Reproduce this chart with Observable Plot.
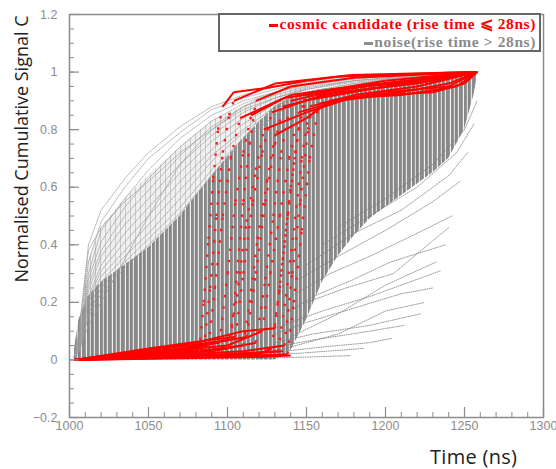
<!DOCTYPE html>
<html>
<head>
<meta charset="utf-8">
<script src="https://cdn.jsdelivr.net/npm/d3@7"></script>
<script src="https://cdn.jsdelivr.net/npm/@observablehq/plot@0.6"></script>
<style>
  html, body { margin: 0; padding: 0; background: #fff; }
  #wrap { position: relative; width: 556px; height: 469px; overflow: hidden; }
  #legend { position: absolute; left: 218px; top: 13px; width: 323px; height: 39px; box-sizing: border-box;
    border: 2px solid #666; background: #fff; font-family: "Liberation Serif", "Times New Roman", serif;
    font-weight: bold; font-size: 15.5px; letter-spacing: 0.6px; text-align: right; padding-right: 3px; line-height: 18px; padding-top: 0px; }
  #legend .row { white-space: nowrap; height: 18px; }
  #legend .mk { display: inline-block; width: 9px; height: 3px; vertical-align: middle; margin-right: 1px; }
  #ylab { position: absolute; left: 21px; top: 149px; transform: translate(-50%, -50%) rotate(-90deg);
    font-family: "Open Sans", sans-serif; font-size: 18px; color: #222; white-space: nowrap; }
  #xlab { position: absolute; left: 430px; top: 443px; font-family: "Open Sans", sans-serif; font-size: 20px; color: #222; white-space: nowrap; letter-spacing: 0.3px; }
</style>
</head>
<body>
<div id="wrap">
  <div id="legend">
    <div class="row" style="color:#ff0000"><span class="mk" style="background:#ff0000"></span>cosmic candidate (rise time ⩽ 28ns)</div>
    <div class="row" style="color:#8c8c8c"><span class="mk" style="background:#8c8c8c"></span>noise(rise time &gt; 28ns)</div>
  </div>
  <div id="ylab">Normalised Cumulative Signal C</div>
  <div id="xlab">Time (ns)</div>
</div>
<script>
// ---- axis ticks ----
const xTicks = [1000, 1050, 1100, 1150, 1200, 1250, 1300];
const yTicks = [-0.2, 0, 0.2, 0.4, 0.6, 0.8, 1, 1.2];
const xMinor = d3.range(1000, 1301, 10);
const yMinor = d3.range(-4, 25).map(i => i * 0.05);

// ---- dense noise band (envelope) ----
const bandT    = [1003, 1006, 1012, 1020, 1035, 1050, 1070, 1090, 1110, 1130, 1140, 1150, 1160, 1170, 1180, 1190, 1200, 1210, 1220, 1230, 1240, 1250, 1256, 1258];
const bandLow  = [0, 0, 0, 0, 0, 0, 0, 0, 0, 0, 0.03, 0.14, 0.27, 0.36, 0.43, 0.49, 0.53, 0.57, 0.61, 0.65, 0.7, 0.8, 0.92, 0.98];
const bandHigh = [0.03, 0.14, 0.22, 0.27, 0.33, 0.39, 0.5, 0.64, 0.77, 0.88, 0.91, 0.93, 0.94, 0.945, 0.95, 0.955, 0.96, 0.965, 0.97, 0.975, 0.98, 0.99, 0.995, 1.0];

// ---- sparse noise band above it ----
const sparseT    = [1003, 1006, 1012, 1020, 1035, 1050, 1070, 1090, 1110, 1130, 1150];
const sparseLow  = [0.03, 0.14, 0.22, 0.27, 0.33, 0.39, 0.5, 0.64, 0.77, 0.88, 0.93];
const sparseHigh = [0.03, 0.1, 0.34, 0.46, 0.56, 0.64, 0.74, 0.83, 0.88, 0.93, 0.95];

// ---- early noise curves (values at upperT) ----
const upperT = [1003, 1006, 1012, 1020, 1035, 1050, 1070, 1090, 1110, 1130, 1150, 1180, 1210, 1240, 1258];
const upperNoise = [
  [0.01, 0.10, 0.40, 0.52, 0.63, 0.72, 0.81, 0.88, 0.92, 0.95, 0.97, 0.985, 0.995, 1, 1],
  [0.01, 0.08, 0.34, 0.48, 0.60, 0.70, 0.79, 0.87, 0.91, 0.94, 0.965, 0.98, 0.99, 1, 1],
  [0.01, 0.07, 0.30, 0.45, 0.56, 0.66, 0.77, 0.85, 0.90, 0.93, 0.96, 0.98, 0.99, 0.995, 1],
  [0.01, 0.06, 0.28, 0.41, 0.53, 0.63, 0.74, 0.83, 0.89, 0.93, 0.955, 0.975, 0.99, 0.995, 1],
  [0.01, 0.06, 0.26, 0.38, 0.50, 0.59, 0.71, 0.81, 0.88, 0.92, 0.95, 0.97, 0.985, 0.995, 1],
  [0.01, 0.05, 0.24, 0.36, 0.47, 0.56, 0.68, 0.78, 0.86, 0.91, 0.945, 0.97, 0.985, 0.99, 1],
  [0.01, 0.05, 0.22, 0.33, 0.44, 0.53, 0.65, 0.76, 0.84, 0.90, 0.94, 0.965, 0.98, 0.99, 1],
  [0.01, 0.04, 0.21, 0.31, 0.41, 0.50, 0.62, 0.73, 0.82, 0.89, 0.93, 0.96, 0.98, 0.99, 1],
  [0.01, 0.04, 0.20, 0.29, 0.38, 0.47, 0.59, 0.71, 0.80, 0.88, 0.93, 0.96, 0.975, 0.99, 1],
  [0.01, 0.04, 0.18, 0.27, 0.36, 0.44, 0.56, 0.69, 0.79, 0.87, 0.92, 0.955, 0.975, 0.99, 1],
  [0.01, 0.03, 0.16, 0.25, 0.34, 0.42, 0.53, 0.66, 0.77, 0.86, 0.92, 0.95, 0.97, 0.985, 1],
  [0.01, 0.03, 0.15, 0.23, 0.32, 0.40, 0.51, 0.64, 0.76, 0.85, 0.915, 0.95, 0.97, 0.985, 1],
  [0.01, 0.03, 0.12, 0.20, 0.35, 0.50, 0.68, 0.80, 0.87, 0.91, 0.94, 0.97, 0.98, 0.99, 1],
  [0.01, 0.09, 0.38, 0.46, 0.55, 0.62, 0.72, 0.80, 0.88, 0.93, 0.96, 0.98, 0.99, 1, 1]
];

// ---- late noise curves [time, value] ----
const lateNoise = [
  [[1120, 0.005], [1150, 0.01], [1178, 0.015]],
  [[1110, 0.01], [1150, 0.025], [1186, 0.04]],
  [[1120, 0.02], [1160, 0.045], [1190, 0.06], [1204, 0.075]],
  [[1125, 0.04], [1155, 0.07], [1190, 0.10], [1212, 0.12]],
  [[1130, 0.06], [1154, 0.09], [1190, 0.12], [1222, 0.16]],
  [[1130, 0.09], [1150, 0.13], [1180, 0.18], [1210, 0.23], [1230, 0.25]],
  [[1135, 0.12], [1160, 0.17], [1190, 0.22], [1220, 0.28], [1235, 0.31]],
  [[1140, 0.17], [1154, 0.22], [1180, 0.28], [1203, 0.34], [1238, 0.40]],
  [[1140, 0.22], [1165, 0.30], [1190, 0.36], [1220, 0.44], [1242, 0.50]],
  [[1145, 0.28], [1170, 0.36], [1200, 0.45], [1230, 0.55], [1247, 0.62]],
  [[1150, 0.33], [1180, 0.44], [1210, 0.52], [1240, 0.64], [1252, 0.72]],
  [[1160, 0.40], [1190, 0.50], [1220, 0.60], [1245, 0.72], [1256, 0.82]],
  [[1170, 0.46], [1200, 0.56], [1230, 0.68], [1250, 0.80], [1258, 0.90]],
  [[1130, 0.03], [1170, 0.09], [1200, 0.17], [1225, 0.20]],
  [[1140, 0.08], [1170, 0.16], [1200, 0.26], [1232, 0.34]],
  [[1150, 0.20], [1175, 0.25], [1205, 0.30], [1240, 0.46]]
];

// ---- cosmic candidates [time, value] ----
const cosmic = [
  [[1003,0],[1040,0.01],[1082,0.03],[1085,0.2],[1088,0.42],[1091,0.63],[1094,0.8],[1097,0.88],[1104,0.93],[1125,0.945],[1150,0.97],[1178,0.99],[1258,1]],
  [[1003,0],[1050,0.02],[1088,0.05],[1092,0.25],[1097,0.5],[1102,0.7],[1108,0.84],[1120,0.87],[1140,0.92],[1180,0.95],[1230,0.97],[1258,1]],
  [[1003,0],[1060,0.03],[1095,0.06],[1100,0.3],[1105,0.55],[1110,0.72],[1115,0.85],[1136,0.91],[1178,0.945],[1220,0.97],[1258,1]],
  [[1003,0],[1070,0.02],[1100,0.04],[1106,0.22],[1112,0.48],[1118,0.66],[1123,0.8],[1150,0.86],[1178,0.91],[1210,0.93],[1240,0.96],[1258,1]],
  [[1003,0],[1050,0.04],[1090,0.07],[1105,0.08],[1110,0.3],[1116,0.55],[1122,0.72],[1128,0.86],[1160,0.92],[1200,0.95],[1258,1]],
  [[1003,0],[1080,0.03],[1110,0.05],[1114,0.2],[1119,0.42],[1125,0.62],[1130,0.78],[1150,0.84],[1165,0.9],[1200,0.93],[1240,0.95],[1258,1]],
  [[1003,0],[1070,0.04],[1112,0.08],[1118,0.3],[1124,0.55],[1130,0.75],[1135,0.88],[1170,0.93],[1220,0.96],[1258,1]],
  [[1003,0],[1090,0.03],[1118,0.06],[1124,0.28],[1129,0.5],[1134,0.72],[1140,0.9],[1180,0.95],[1230,0.98],[1258,1]],
  [[1003,0],[1100,0.05],[1122,0.1],[1127,0.3],[1133,0.5],[1139,0.7],[1145,0.86],[1170,0.9],[1200,0.92],[1230,0.93],[1250,0.96],[1258,1]],
  [[1003,0],[1060,0.01],[1120,0.02],[1128,0.04],[1133,0.25],[1138,0.5],[1143,0.72],[1148,0.9],[1190,0.94],[1258,1]],
  [[1003,0],[1080,0.06],[1110,0.1],[1130,0.11],[1135,0.35],[1140,0.6],[1145,0.8],[1150,0.92],[1200,0.96],[1258,1]],
  [[1003,0],[1100,0.02],[1132,0.03],[1137,0.22],[1142,0.45],[1147,0.7],[1152,0.88],[1180,0.92],[1220,0.95],[1258,1]],
  [[1003,0],[1030,0.02],[1075,0.05],[1102,0.07],[1106,0.3],[1110,0.55],[1114,0.75],[1118,0.9],[1140,0.95],[1180,0.98],[1258,1]],
  [[1003,0],[1110,0.03],[1136,0.05],[1141,0.3],[1146,0.55],[1151,0.8],[1155,0.93],[1200,0.97],[1258,1]],
  [[1003,0],[1090,0.01],[1138,0.02],[1142,0.2],[1147,0.45],[1152,0.7],[1158,0.89],[1175,0.91],[1210,0.92],[1245,0.95],[1258,1]],
  [[1003,0],[1040,0.01],[1085,0.04],[1089,0.25],[1093,0.5],[1097,0.72],[1101,0.85],[1104,0.9],[1130,0.96],[1170,0.985],[1258,1]],
  [[1003,0],[1060,0.005],[1120,0.01],[1140,0.015]],
  [[1003,0],[1050,0.012],[1100,0.02],[1135,0.03]]
];

// ---- tables ----
const bandRows = bandT.map((t, i) => ({t, lo: bandLow[i], hi: bandHigh[i]}));
const sparseRows = sparseT.map((t, i) => ({t, lo: sparseLow[i], hi: sparseHigh[i]}));
const upperRows = upperNoise.flatMap((vals, id) => vals.map((v, i) => ({id, t: upperT[i], v})));
const lateRows = lateNoise.flatMap((pts, id) => pts.map(([t, v]) => ({id, t, v})));
const segs = cosmic.flatMap((pts, id) => pts.slice(1).map((p, i) => {
  const q = pts[i];
  return {id, t1: q[0], v1: q[1], t2: p[0], v2: p[1], steep: (p[1] - q[1]) / (p[0] - q[0]) > 0.015};
}));

const axisGray = "#8c8c8c";
const plot = Plot.plot({
  width: 556, height: 469,
  marginLeft: 69, marginRight: 13, marginTop: 14, marginBottom: 52,
  style: {fontFamily: "'Liberation Sans', Arial, sans-serif", fontSize: "12.5px", color: axisGray, background: "white", overflow: "visible"},
  x: {domain: [1000, 1300], ticks: xTicks, tickSize: 0, tickPadding: 4, label: null, tickFormat: d => String(d)},
  y: {domain: [-0.2, 1.2], ticks: yTicks, tickSize: 0, tickPadding: 12, label: null, tickFormat: d3.format("~g")},
  marks: [
    Plot.areaY(sparseRows, {x: "t", y1: "lo", y2: "hi", fill: "url(#hatchSparse)"}),
    Plot.areaY(bandRows, {x: "t", y1: "lo", y2: "hi", fill: "url(#hatchDense)"}),
    Plot.line(upperRows, {x: "t", y: "v", z: "id", stroke: "#9a9a9a", strokeWidth: 0.8, strokeDasharray: "1,1.2"}),
    Plot.line(lateRows, {x: "t", y: "v", z: "id", stroke: "#808080", strokeWidth: 0.8, strokeDasharray: "1,1.3"}),
    Plot.link(segs.filter(d => !d.steep), {x1: "t1", y1: "v1", x2: "t2", y2: "v2", stroke: "#ff0000", strokeWidth: 2}),
    Plot.link(segs.filter(d => d.steep), {x1: "t1", y1: "v1", x2: "t2", y2: "v2", stroke: "#ff1a1a", strokeWidth: 2.4, strokeDasharray: "2.4,9"}),
    Plot.frame({stroke: axisGray, strokeWidth: 1.5}),
    Plot.tickX(xMinor, {x: d => d, stroke: axisGray, strokeWidth: 1, insetTop: 398}),
    Plot.tickX(xTicks, {x: d => d, stroke: axisGray, strokeWidth: 1.2, insetTop: 393}),
    Plot.tickY(yMinor, {y: d => d, stroke: axisGray, strokeWidth: 1, insetRight: 469}),
    Plot.tickY(yTicks, {y: d => d, stroke: axisGray, strokeWidth: 1.2, insetRight: 464})
  ]
});

d3.select(plot).insert("defs", ":first-child").html(`
  <pattern id="hatchDense" patternUnits="userSpaceOnUse" width="13" height="4">
    <rect x="0" y="0" width="13" height="4" fill="#9a9a9a"/>
    <rect x="0" y="0" width="2" height="4" fill="#858585"/>
    <rect x="3" y="0" width="1" height="4" fill="#e6e6e6"/>
    <rect x="4" y="0" width="3" height="4" fill="#8a8a8a"/>
    <rect x="8" y="0" width="1" height="4" fill="#f2f2f2"/>
    <rect x="9" y="0" width="2" height="4" fill="#888888"/>
    <rect x="12" y="0" width="1" height="4" fill="#d8d8d8"/>
  </pattern>
  <pattern id="hatchSparse" patternUnits="userSpaceOnUse" width="5" height="4">
    <rect x="0" y="0" width="5" height="4" fill="#f0f0f0"/>
    <rect x="0" y="0" width="1" height="4" fill="#cacaca"/>
  </pattern>`);

document.getElementById("wrap").prepend(plot);
</script>
</body>
</html>
